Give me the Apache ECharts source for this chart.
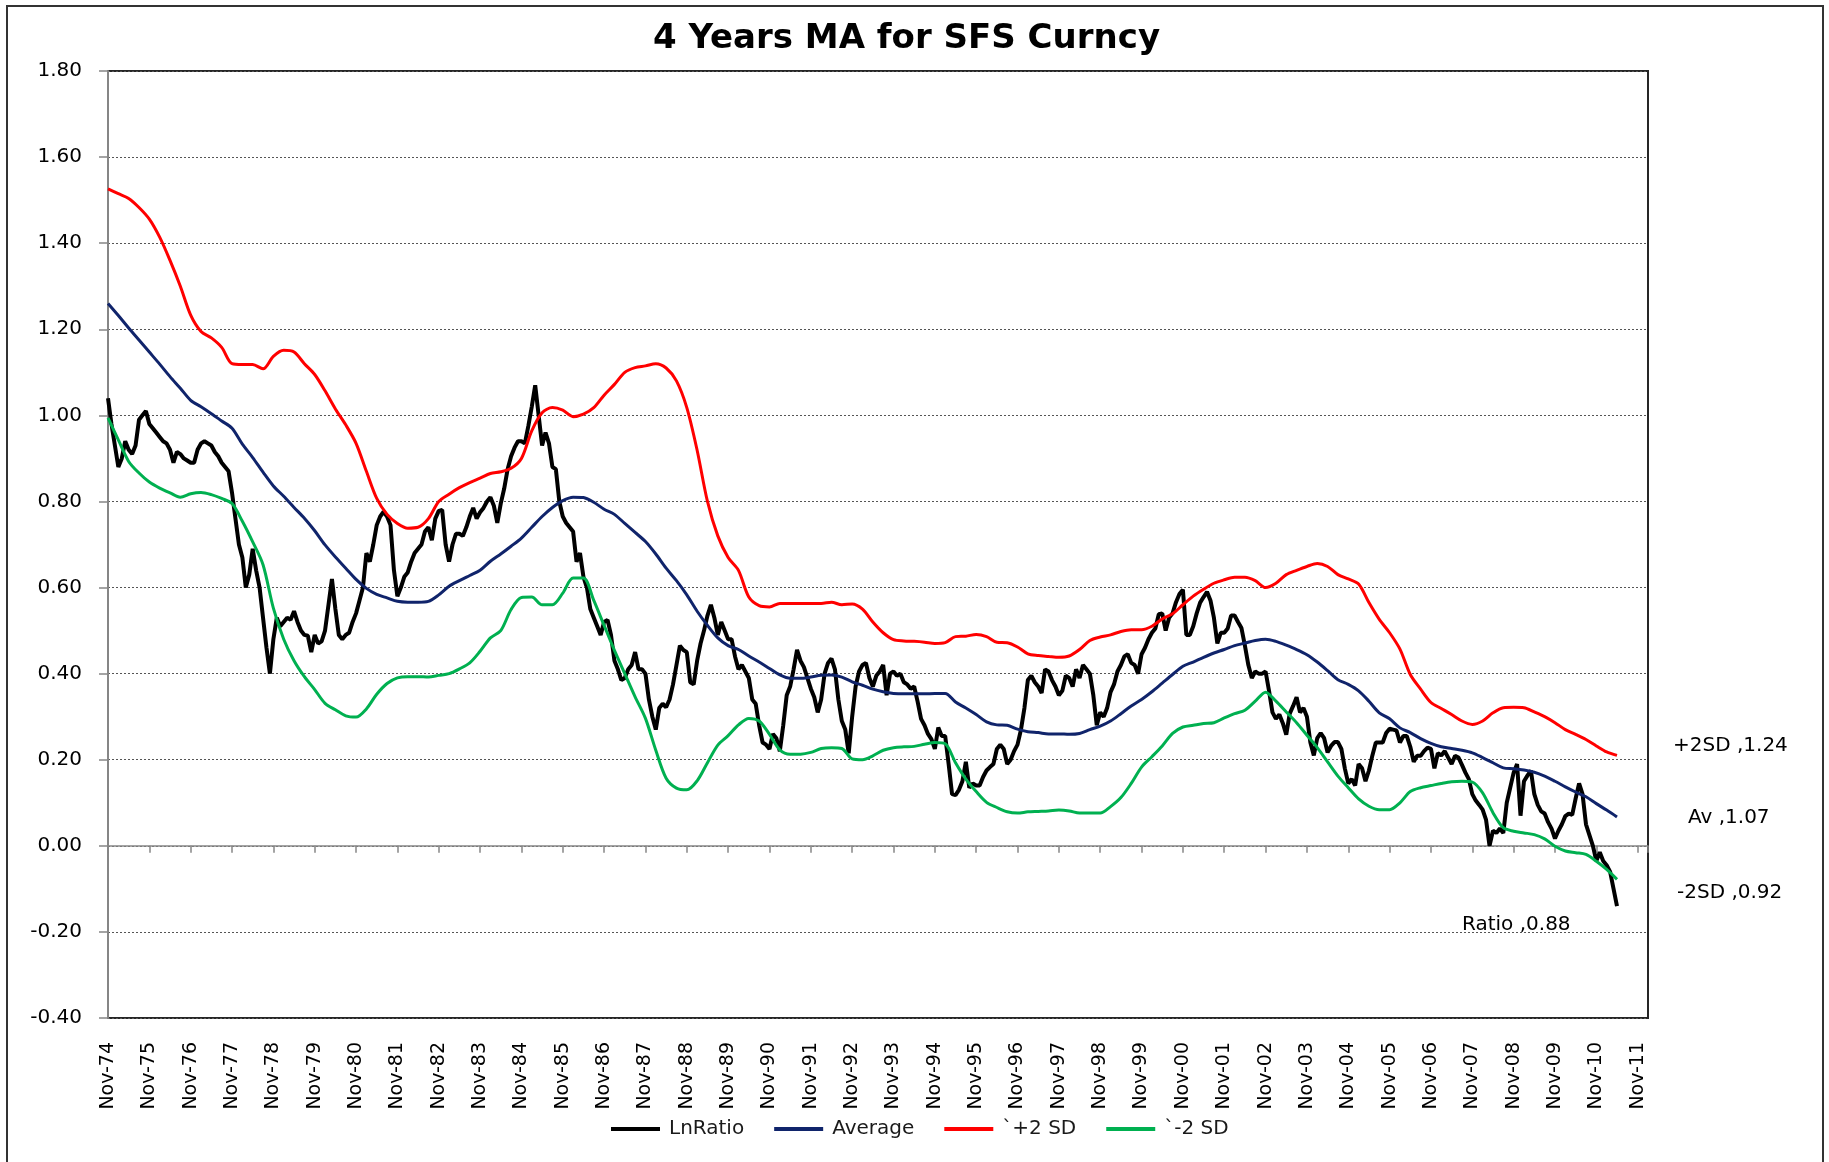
<!DOCTYPE html>
<html>
<head>
<meta charset="utf-8">
<title>4 Years MA for SFS Curncy</title>
<script src="https://cdn.jsdelivr.net/npm/echarts@6/dist/echarts.min.js"></script>
<style>
  html, body { margin: 0; padding: 0; background: #fff; }
  #chart { width: 1829px; height: 1162px; }
</style>
</head>
<body>
<div id="chart"></div>
<script>
// one label per November, x axis runs in months from Nov-74
const xLabels = ['Nov-74', 'Nov-75', 'Nov-76', 'Nov-77', 'Nov-78', 'Nov-79', 'Nov-80', 'Nov-81',
  'Nov-82', 'Nov-83', 'Nov-84', 'Nov-85', 'Nov-86', 'Nov-87', 'Nov-88', 'Nov-89', 'Nov-90',
  'Nov-91', 'Nov-92', 'Nov-93', 'Nov-94', 'Nov-95', 'Nov-96', 'Nov-97', 'Nov-98', 'Nov-99',
  'Nov-00', 'Nov-01', 'Nov-02', 'Nov-03', 'Nov-04', 'Nov-05', 'Nov-06', 'Nov-07', 'Nov-08',
  'Nov-09', 'Nov-10', 'Nov-11'];

// LnRatio, one value per month
const lnRatio = [
  1.04, 0.98, 0.93, 0.88, 0.90, 0.94, 0.92, 0.91, 0.93, 0.99, 1.00, 1.01,
  0.98, 0.97, 0.96, 0.95, 0.94, 0.935, 0.92, 0.89, 0.915, 0.91, 0.90, 0.895,
  0.89, 0.89, 0.92, 0.935, 0.94, 0.935, 0.93, 0.915, 0.905, 0.89, 0.88, 0.87,
  0.82, 0.76, 0.70, 0.67, 0.60, 0.63, 0.69, 0.64, 0.60, 0.53, 0.46, 0.40,
  0.48, 0.53, 0.51, 0.52, 0.53, 0.525, 0.545, 0.52, 0.50, 0.49, 0.488, 0.45,
  0.49, 0.47, 0.475, 0.50, 0.56, 0.62, 0.55, 0.49, 0.48, 0.49, 0.495, 0.52,
  0.54, 0.57, 0.60, 0.68, 0.66, 0.70, 0.745, 0.765, 0.776, 0.765, 0.745, 0.64,
  0.58, 0.60, 0.625, 0.635, 0.66, 0.68, 0.69, 0.70, 0.73, 0.74, 0.71, 0.76,
  0.778, 0.78, 0.70, 0.66, 0.70, 0.725, 0.725, 0.72, 0.74, 0.765, 0.785, 0.76,
  0.775, 0.785, 0.80, 0.81, 0.79, 0.75, 0.795, 0.83, 0.875, 0.905, 0.925, 0.94,
  0.94, 0.935, 0.975, 1.02, 1.07, 1.00, 0.93, 0.96, 0.935, 0.88, 0.875, 0.80,
  0.765, 0.75, 0.74, 0.73, 0.66, 0.68, 0.625, 0.60, 0.55, 0.53, 0.51, 0.49,
  0.52, 0.525, 0.49, 0.43, 0.41, 0.385, 0.39, 0.41, 0.42, 0.45, 0.41, 0.41,
  0.40, 0.34, 0.30, 0.27, 0.32, 0.33, 0.322, 0.34, 0.375, 0.42, 0.465, 0.455,
  0.45, 0.38, 0.375, 0.43, 0.47, 0.50, 0.535, 0.56, 0.53, 0.49, 0.52, 0.50,
  0.48, 0.48, 0.44, 0.41, 0.42, 0.405, 0.39, 0.34, 0.33, 0.28, 0.24, 0.235,
  0.225, 0.26, 0.25, 0.22, 0.28, 0.35, 0.37, 0.41, 0.455, 0.43, 0.415, 0.39,
  0.365, 0.345, 0.31, 0.34, 0.40, 0.425, 0.435, 0.41, 0.34, 0.29, 0.27, 0.215,
  0.30, 0.37, 0.405, 0.42, 0.425, 0.39, 0.37, 0.395, 0.405, 0.42, 0.35, 0.40,
  0.405, 0.395, 0.40, 0.38, 0.375, 0.365, 0.37, 0.335, 0.295, 0.28, 0.26, 0.248,
  0.225, 0.275, 0.255, 0.255, 0.19, 0.12, 0.118, 0.13, 0.15, 0.195, 0.135, 0.145,
  0.14, 0.14, 0.16, 0.175, 0.183, 0.19, 0.225, 0.235, 0.225, 0.19, 0.20, 0.22,
  0.235, 0.27, 0.32, 0.385, 0.395, 0.38, 0.37, 0.355, 0.41, 0.405, 0.385, 0.37,
  0.35, 0.36, 0.395, 0.39, 0.37, 0.41, 0.39, 0.42, 0.41, 0.40, 0.35, 0.28,
  0.31, 0.30, 0.32, 0.357, 0.375, 0.405, 0.42, 0.44, 0.445, 0.425, 0.42, 0.40,
  0.445, 0.46, 0.48, 0.495, 0.505, 0.538, 0.54, 0.50, 0.53, 0.54, 0.566, 0.585,
  0.595, 0.49, 0.49, 0.51, 0.54, 0.565, 0.578, 0.59, 0.57, 0.53, 0.47, 0.495,
  0.495, 0.505, 0.535, 0.535, 0.52, 0.506, 0.465, 0.42, 0.39, 0.405, 0.40, 0.40,
  0.405, 0.36, 0.31, 0.295, 0.305, 0.285, 0.258, 0.307, 0.325, 0.345, 0.31, 0.32,
  0.30, 0.24, 0.21, 0.25, 0.262, 0.25, 0.217, 0.232, 0.241, 0.241, 0.225, 0.18,
  0.145, 0.155, 0.14, 0.19, 0.18, 0.15, 0.175, 0.21, 0.24, 0.24, 0.24, 0.262,
  0.272, 0.27, 0.268, 0.24, 0.255, 0.255, 0.23, 0.195, 0.209, 0.209, 0.22, 0.228,
  0.225, 0.18, 0.215, 0.21, 0.22, 0.205, 0.19, 0.209, 0.205, 0.188, 0.17, 0.155,
  0.12, 0.105, 0.095, 0.084, 0.06, 0.00, 0.035, 0.03, 0.04, 0.03, 0.10, 0.135,
  0.17, 0.19, 0.07, 0.15, 0.163, 0.175, 0.12, 0.095, 0.08, 0.075, 0.055, 0.04,
  0.017, 0.035, 0.05, 0.069, 0.075, 0.072, 0.11, 0.145, 0.12, 0.05, 0.025, 0.0,
  -0.035, -0.015, -0.035, -0.045, -0.06, -0.10, -0.14
];

// moving average and bands, one value per quarter
const average = [
  1.26, 1.232, 1.203, 1.175, 1.147, 1.119, 1.09, 1.063, 1.035, 1.02, 1.004, 0.987,
  0.97, 0.933, 0.902, 0.868, 0.836, 0.812, 0.786, 0.761, 0.732, 0.699, 0.671, 0.645,
  0.619, 0.598, 0.584, 0.576, 0.568, 0.566, 0.566, 0.568, 0.583, 0.603, 0.616, 0.628,
  0.64, 0.661, 0.678, 0.696, 0.715, 0.74, 0.765, 0.786, 0.802, 0.81, 0.809, 0.798,
  0.782, 0.77, 0.749, 0.728, 0.707, 0.678, 0.645, 0.616, 0.583, 0.545, 0.512, 0.483,
  0.465, 0.456, 0.441, 0.427, 0.412, 0.397, 0.389, 0.389, 0.392, 0.396, 0.397, 0.392,
  0.381, 0.373, 0.364, 0.358, 0.354, 0.353, 0.353, 0.353, 0.354, 0.354, 0.334, 0.32,
  0.305, 0.288, 0.281, 0.28, 0.271, 0.265, 0.263, 0.26, 0.26, 0.259, 0.261, 0.27,
  0.278, 0.29, 0.307, 0.325, 0.34, 0.358, 0.378, 0.398, 0.417, 0.427, 0.438, 0.448,
  0.456, 0.465, 0.471, 0.477, 0.48, 0.475, 0.466, 0.456, 0.444, 0.427, 0.407, 0.386,
  0.375, 0.36, 0.336, 0.309, 0.295, 0.274, 0.263, 0.249, 0.238, 0.23, 0.226, 0.222,
  0.216, 0.205, 0.193, 0.181, 0.179, 0.176, 0.171, 0.162, 0.15, 0.137, 0.125, 0.114,
  0.098, 0.083, 0.067
];

const plus2sd = [
  1.526, 1.515, 1.504, 1.483, 1.456, 1.414, 1.36, 1.30, 1.233, 1.195, 1.18, 1.158,
  1.12, 1.118, 1.118, 1.108, 1.137, 1.151, 1.147, 1.12, 1.095, 1.057, 1.015, 0.978,
  0.935, 0.87, 0.807, 0.77, 0.749, 0.738, 0.74, 0.76, 0.80, 0.817, 0.832, 0.844,
  0.854, 0.865, 0.869, 0.877, 0.90, 0.964, 1.006, 1.018, 1.012, 0.997, 1.003, 1.018,
  1.047, 1.072, 1.10, 1.111, 1.115, 1.12, 1.11, 1.08, 1.018, 0.919, 0.80, 0.72,
  0.67, 0.64, 0.578, 0.558, 0.555, 0.563, 0.563, 0.563, 0.563, 0.563, 0.566, 0.56,
  0.562, 0.55, 0.52, 0.495, 0.479, 0.476, 0.475, 0.473, 0.47, 0.472, 0.486, 0.487,
  0.491, 0.486, 0.473, 0.472, 0.462, 0.446, 0.442, 0.44, 0.438, 0.441, 0.456, 0.477,
  0.485, 0.49, 0.498, 0.502, 0.502, 0.51, 0.527, 0.539, 0.56, 0.58, 0.596, 0.61,
  0.618, 0.624, 0.624, 0.616, 0.60, 0.61, 0.63, 0.64, 0.649, 0.656, 0.649, 0.63,
  0.62, 0.608, 0.565, 0.526, 0.495, 0.457, 0.398, 0.364, 0.333, 0.319, 0.305, 0.29,
  0.282, 0.29, 0.309, 0.321, 0.322, 0.321, 0.311, 0.30, 0.286, 0.27, 0.259, 0.247,
  0.232, 0.218, 0.21
];

const minus2sd = [
  0.994, 0.943, 0.893, 0.866, 0.845, 0.831, 0.82, 0.81, 0.818, 0.821, 0.816, 0.807,
  0.795, 0.754, 0.706, 0.653, 0.552, 0.48, 0.43, 0.393, 0.363, 0.331, 0.316, 0.302,
  0.299, 0.318, 0.352, 0.377, 0.39, 0.393, 0.393, 0.392, 0.396, 0.40, 0.411, 0.425,
  0.452, 0.483, 0.50, 0.549, 0.577, 0.578, 0.56, 0.56, 0.587, 0.622, 0.622, 0.57,
  0.512, 0.454, 0.40, 0.346, 0.296, 0.222, 0.157, 0.134, 0.13, 0.151, 0.193, 0.234,
  0.256, 0.281, 0.296, 0.29, 0.259, 0.223, 0.213, 0.213, 0.217, 0.226, 0.228, 0.226,
  0.202, 0.20, 0.209, 0.222, 0.228, 0.23, 0.231, 0.236, 0.24, 0.237, 0.193, 0.155,
  0.126, 0.101, 0.089, 0.079, 0.076, 0.079, 0.08, 0.081, 0.083, 0.081, 0.076, 0.076,
  0.076, 0.091, 0.112, 0.145, 0.183, 0.207, 0.232, 0.261, 0.276, 0.28, 0.284, 0.286,
  0.297, 0.307, 0.315, 0.336, 0.357, 0.336, 0.311, 0.286, 0.257, 0.228, 0.195, 0.162,
  0.135, 0.109, 0.092, 0.084, 0.084, 0.10, 0.126, 0.135, 0.14, 0.145, 0.149, 0.15,
  0.148, 0.123, 0.077, 0.042, 0.034, 0.03, 0.026, 0.016, -0.001, -0.012, -0.016, -0.02,
  -0.036, -0.055, -0.078
];

// latest readings shown at the right of the plot
const endLabels = ['+2SD ,1.24', 'Av ,1.07', '-2SD ,0.92', 'Ratio ,0.88'];

const FONT = 'DejaVu Sans';
const AXIS_GRAY = '#868686';

const chart = echarts.init(document.getElementById('chart'), null, { renderer: 'canvas' });

const monthly = lnRatio.map((v, i) => [i, v]);
const quarterly = arr => arr.map((v, i) => [i * 3, v]);

const lineSeries = (name, data, color, width, smooth) => ({
  name: name,
  type: 'line',
  xAxisIndex: 0,
  data: data,
  symbol: 'none',
  smooth: smooth,
  lineStyle: { color: color, width: width },
  itemStyle: { color: color },
  emphasis: { disabled: true }
});

const option = {
  animation: false,
  backgroundColor: '#fff',
  title: {
    text: '4 Years MA for SFS Curncy',
    left: 653,
    top: 22,
    padding: 0,
    textStyle: { fontFamily: FONT, fontWeight: 'bold', fontSize: 34, color: '#000' }
  },
  legend: {
    left: 611,
    top: 1119,
    padding: 0,
    icon: 'rect',
    itemWidth: 49,
    itemHeight: 4,
    itemGap: 30,
    textStyle: { fontFamily: FONT, fontSize: 20, color: '#1a1a1a', padding: [0, 0, 0, 4] },
    data: ['LnRatio', 'Average', '`+2 SD', '`-2 SD']
  },
  grid: {
    left: 108,
    top: 71,
    width: 1540,
    height: 947,
    show: true,
    borderColor: '#262626',
    borderWidth: 2,
    outerBoundsMode: 'none'
  },
  xAxis: [
    {
      // axis line crossing at zero with yearly ticks
      type: 'value',
      min: 0,
      max: 447,
      interval: 12,
      axisLine: { onZero: true, lineStyle: { color: AXIS_GRAY, width: 1.5 } },
      axisTick: { show: true, length: 7, lineStyle: { color: AXIS_GRAY, width: 1.5 } },
      axisLabel: { show: false },
      splitLine: { show: false }
    },
    {
      // labels along the bottom of the plot
      type: 'value',
      position: 'bottom',
      min: 0,
      max: 447,
      interval: 12,
      axisLine: { show: false, onZero: false },
      axisTick: { show: false },
      splitLine: { show: false },
      axisLabel: {
        rotate: 90,
        margin: 24,
        showMaxLabel: false,
        fontFamily: FONT,
        fontSize: 19,
        color: '#000',
        formatter: v => (v % 12 === 0 ? xLabels[v / 12] : '')
      }
    }
  ],
  yAxis: {
    type: 'value',
    min: -0.4,
    max: 1.8,
    interval: 0.2,
    axisLine: { show: true, lineStyle: { color: AXIS_GRAY, width: 2 } },
    axisTick: { show: true, length: 9, lineStyle: { color: AXIS_GRAY, width: 1.5 } },
    axisLabel: {
      margin: 26,
      fontFamily: FONT,
      fontSize: 20,
      color: '#000',
      formatter: v => v.toFixed(2)
    },
    splitLine: { show: true, lineStyle: { color: '#555', width: 1, type: [2, 2] } }
  },
  series: [
    lineSeries('LnRatio', monthly, '#000000', 4, false),
    lineSeries('Average', quarterly(average), '#10246b', 3, 0.3),
    lineSeries('`+2 SD', quarterly(plus2sd), '#ff0000', 3, 0.3),
    lineSeries('`-2 SD', quarterly(minus2sd), '#00b050', 3, 0.3)
  ],
  graphic: [
    {
      type: 'rect',
      shape: { x: 7, y: 6, width: 1816, height: 1170 },
      style: { fill: 'none', stroke: '#333', lineWidth: 2 },
      silent: true
    },
    { type: 'text', x: 1673, y: 746, style: { text: endLabels[0], font: '20px "DejaVu Sans"', fill: '#000', verticalAlign: 'middle' } },
    { type: 'text', x: 1688, y: 818, style: { text: endLabels[1], font: '20px "DejaVu Sans"', fill: '#000', verticalAlign: 'middle' } },
    { type: 'text', x: 1677, y: 893, style: { text: endLabels[2], font: '20px "DejaVu Sans"', fill: '#000', verticalAlign: 'middle' } },
    { type: 'text', x: 1462, y: 925, style: { text: endLabels[3], font: '20px "DejaVu Sans"', fill: '#000', verticalAlign: 'middle' } }
  ]
};

chart.setOption(option);
</script>
</body>
</html>
